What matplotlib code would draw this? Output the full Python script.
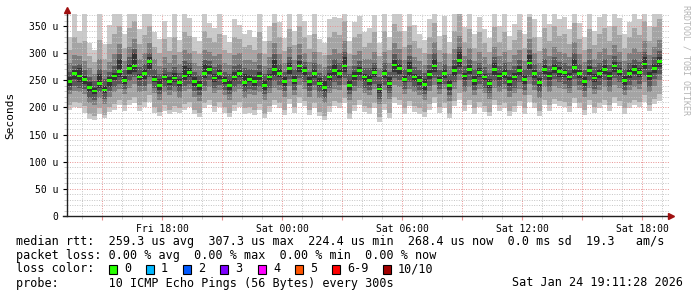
import matplotlib
matplotlib.use("Agg")
import matplotlib.pyplot as plt
from matplotlib.ticker import MultipleLocator, FuncFormatter
from matplotlib.patches import Rectangle
from matplotlib.lines import Line2D
import numpy as np

OUTPUT = "out.png"
MONO = "DejaVu Sans Mono"

# time of each 15 min column, hours since Fri 00:00
START = 13.25
STEP = 0.25

# median rtt (microseconds)
median = [248, 262, 258, 252, 236, 230, 244, 232, 250, 258, 266, 250,
          272, 276, 256, 262, 284, 252, 240, 256, 248, 254, 246, 258,
          264, 248, 240, 262, 270, 254, 262, 250, 240, 256, 262, 246,
          252, 248, 258, 240, 256, 270, 262, 248, 272, 250, 276, 268,
          248, 262, 244, 236, 256, 268, 262, 276, 240, 258, 268, 256,
          250, 264, 234, 262, 244, 278, 272, 252, 268, 256, 250, 242,
          260, 276, 250, 262, 240, 268, 286, 258, 270, 250, 264, 256,
          244, 270, 258, 262, 248, 256, 268, 252, 282, 262, 246, 270,
          258, 272, 266, 264, 256, 274, 262, 248, 268, 254, 262, 270,
          258, 276, 266, 250, 262, 270, 264, 280, 258, 272, 284]

# sorted pings p1 (min) .. p10 (max)
p1 = [196, 200, 198, 190, 178, 176, 188, 180, 192, 196, 204, 194,
      204, 208, 194, 200, 210, 190, 184, 194, 188, 192, 190, 196,
      200, 188, 182, 198, 204, 192, 200, 190, 182, 194, 200, 188,
      190, 186, 196, 180, 192, 204, 198, 186, 206, 190, 208, 202,
      186, 198, 184, 176, 192, 202, 198, 208, 178, 194, 204, 192,
      188, 198, 174, 196, 180, 208, 204, 188, 202, 192, 188, 182,
      196, 208, 190, 198, 180, 202, 214, 194, 204, 188, 200, 192,
      184, 204, 194, 198, 184, 192, 202, 188, 210, 198, 184, 204,
      194, 206, 202, 200, 192, 208, 198, 186, 204, 190, 198, 204,
      194, 208, 202, 188, 198, 204, 200, 210, 194, 206, 212]
p2 = [204, 210, 208, 202, 188, 184, 198, 186, 200, 206, 214, 204,
      214, 220, 204, 210, 222, 200, 192, 204, 196, 202, 198, 206,
      210, 196, 190, 208, 214, 202, 210, 200, 190, 204, 210, 198,
      200, 196, 206, 188, 202, 214, 208, 196, 216, 200, 220, 212,
      196, 208, 192, 184, 202, 212, 208, 218, 188, 204, 214, 202,
      198, 208, 182, 206, 190, 220, 214, 198, 212, 202, 198, 192,
      206, 220, 200, 208, 188, 212, 226, 204, 214, 198, 210, 202,
      192, 214, 204, 208, 194, 202, 212, 198, 222, 208, 194, 214,
      204, 216, 212, 210, 202, 218, 208, 196, 214, 200, 208, 214,
      204, 220, 212, 198, 208, 214, 210, 222, 204, 216, 224]
p3 = [224, 230, 228, 224, 208, 204, 218, 206, 220, 228, 234, 224,
      236, 244, 228, 230, 244, 226, 214, 228, 222, 228, 218, 230,
      234, 220, 212, 230, 238, 226, 232, 222, 214, 228, 234, 218,
      224, 222, 228, 214, 226, 236, 232, 220, 240, 222, 242, 234,
      220, 232, 218, 208, 226, 234, 232, 242, 214, 230, 236, 226,
      222, 234, 206, 232, 216, 242, 238, 224, 234, 228, 222, 214,
      230, 242, 224, 234, 212, 234, 250, 228, 238, 222, 234, 226,
      216, 236, 228, 234, 220, 226, 234, 222, 244, 232, 218, 238,
      228, 240, 236, 234, 226, 240, 232, 220, 236, 224, 232, 238,
      228, 242, 236, 222, 232, 238, 234, 246, 228, 240, 250]
p4 = [232, 240, 236, 234, 218, 214, 228, 216, 230, 238, 244, 234,
      248, 256, 240, 240, 256, 236, 224, 238, 232, 238, 228, 240,
      244, 230, 222, 240, 250, 236, 242, 232, 224, 238, 244, 228,
      234, 232, 238, 224, 236, 248, 242, 230, 252, 232, 254, 246,
      230, 242, 228, 218, 236, 246, 242, 254, 224, 240, 248, 236,
      232, 244, 216, 242, 226, 254, 250, 234, 246, 238, 232, 224,
      240, 254, 234, 244, 222, 246, 262, 238, 250, 232, 244, 236,
      226, 248, 238, 244, 230, 236, 246, 232, 256, 242, 228, 250,
      238, 252, 246, 244, 236, 252, 242, 230, 248, 234, 242, 250,
      238, 254, 246, 232, 242, 250, 244, 258, 238, 252, 262]
p5 = [240, 252, 246, 244, 228, 224, 236, 226, 238, 250, 256, 244,
      262, 266, 250, 252, 270, 246, 232, 248, 242, 246, 238, 250,
      256, 240, 232, 254, 262, 246, 252, 244, 232, 248, 256, 238,
      246, 240, 250, 232, 248, 258, 256, 240, 262, 244, 266, 258,
      240, 254, 238, 228, 248, 258, 254, 266, 232, 250, 260, 248,
      242, 256, 226, 254, 236, 266, 262, 246, 258, 248, 242, 232,
      252, 266, 244, 254, 232, 258, 274, 250, 262, 242, 256, 248,
      236, 260, 250, 254, 240, 248, 258, 244, 270, 254, 238, 262,
      250, 264, 256, 256, 248, 264, 254, 240, 260, 246, 254, 262,
      250, 266, 258, 242, 254, 262, 256, 270, 250, 264, 274]
p6 = [256, 268, 272, 258, 246, 236, 262, 240, 256, 264, 290, 258,
      280, 300, 262, 270, 292, 258, 252, 262, 256, 264, 252, 276,
      272, 256, 248, 280, 276, 262, 270, 256, 250, 266, 268, 262,
      260, 256, 266, 250, 262, 288, 270, 256, 282, 258, 286, 274,
      256, 270, 254, 248, 264, 280, 270, 292, 250, 266, 274, 262,
      260, 272, 244, 270, 256, 288, 280, 258, 284, 262, 258, 252,
      268, 290, 256, 270, 250, 276, 302, 264, 278, 258, 272, 262,
      252, 282, 264, 270, 256, 264, 276, 260, 296, 268, 254, 278,
      266, 280, 274, 270, 264, 290, 268, 256, 276, 262, 270, 278,
      266, 284, 272, 258, 270, 278, 272, 292, 266, 280, 292]
p7 = [266, 276, 280, 268, 256, 248, 270, 252, 266, 276, 298, 268,
      292, 308, 274, 280, 300, 270, 262, 272, 266, 274, 264, 286,
      282, 266, 260, 288, 286, 274, 280, 266, 262, 276, 280, 272,
      270, 268, 278, 262, 272, 298, 280, 266, 292, 270, 296, 284,
      266, 282, 264, 260, 276, 290, 282, 302, 262, 276, 286, 272,
      272, 282, 256, 282, 266, 298, 290, 270, 294, 274, 268, 264,
      278, 300, 268, 280, 262, 288, 312, 276, 290, 270, 282, 274,
      264, 292, 276, 282, 268, 276, 288, 270, 306, 280, 266, 290,
      276, 292, 284, 282, 276, 300, 280, 268, 288, 274, 282, 290,
      278, 294, 284, 270, 282, 290, 284, 302, 278, 292, 304]
p8 = [282, 296, 294, 286, 272, 262, 290, 268, 284, 298, 316, 286,
      312, 326, 290, 300, 318, 290, 276, 292, 282, 296, 280, 306,
      300, 282, 276, 306, 302, 294, 298, 282, 278, 296, 300, 288,
      288, 284, 300, 276, 292, 318, 298, 282, 312, 288, 316, 300,
      284, 302, 280, 274, 296, 308, 300, 322, 276, 296, 304, 290,
      290, 302, 272, 302, 282, 318, 308, 288, 314, 292, 286, 278,
      298, 320, 284, 300, 276, 308, 332, 294, 310, 286, 302, 292,
      280, 312, 294, 302, 284, 296, 306, 286, 326, 300, 282, 310,
      294, 312, 302, 300, 292, 320, 298, 284, 308, 290, 302, 310,
      296, 314, 302, 286, 300, 310, 302, 322, 296, 312, 324]
p9 = [306, 330, 318, 322, 294, 284, 324, 290, 316, 336, 350, 310,
      346, 360, 316, 334, 350, 312, 300, 326, 304, 330, 302, 338,
      332, 304, 298, 340, 328, 320, 336, 306, 300, 330, 326, 312,
      314, 306, 338, 298, 322, 356, 330, 304, 344, 314, 350, 330,
      308, 336, 302, 296, 330, 338, 334, 360, 298, 330, 336, 312,
      318, 338, 294, 340, 306, 354, 340, 312, 350, 322, 310, 300,
      330, 356, 306, 334, 298, 340, 372, 320, 344, 310, 338, 318,
      302, 348, 320, 338, 306, 324, 342, 310, 366, 330, 304, 346,
      322, 350, 332, 336, 316, 356, 326, 306, 344, 314, 336, 346,
      322, 350, 334, 310, 330, 346, 334, 360, 322, 348, 362]
p10 = [330, 372, 340, 372, 318, 306, 372, 316, 352, 372, 372, 336,
       372, 372, 344, 372, 372, 338, 326, 360, 330, 372, 324, 372,
       364, 330, 322, 372, 356, 346, 372, 334, 320, 362, 352, 336,
       342, 330, 372, 322, 350, 372, 358, 328, 372, 340, 372, 360,
       334, 372, 326, 318, 362, 366, 364, 372, 322, 358, 368, 338,
       346, 370, 318, 372, 330, 372, 372, 340, 372, 352, 336, 324,
       362, 372, 332, 368, 320, 372, 372, 348, 372, 336, 366, 344,
       328, 372, 350, 372, 332, 354, 372, 336, 372, 362, 330, 372,
       354, 372, 362, 366, 344, 372, 356, 330, 372, 340, 366, 372,
       350, 372, 364, 336, 358, 372, 362, 372, 350, 372, 372]

loss_labels = ["0", "1", "2", "3", "4", "5", "6-9", "10/10"]
loss_colors = ["#26ff00", "#00b8ff", "#0059ff", "#7e00ff",
               "#ff00ff", "#ff5500", "#ff0000", "#a10000"]
smoke_colors = ["#cacaca", "#a4a4a4", "#7e7e7e", "#585858", "#323232"]

W, H = 697, 297


def fx(px):
    return px / W


def fy(py):
    return 1 - py / H


def plot_smoke():
    fig = plt.figure(figsize=(W / 100, H / 100), dpi=100)
    fig.patch.set_facecolor("white")
    ax = fig.add_axes([fx(67), fy(216), (669 - 67) / W, (216 - 14) / H])

    t = START + STEP * np.arange(len(median))
    lows = [p1, p2, p3, p4, p5]
    highs = [p10, p9, p8, p7, p6]
    for lo, hi, c in zip(lows, highs, smoke_colors):
        lo = np.array(lo, float)
        hi = np.array(hi, float)
        ax.bar(t, hi - lo, bottom=lo, width=STEP, align="edge",
               color=c, linewidth=0, zorder=1)

    # median drawn as a thin band in loss colour
    med = np.array(median, float)
    ax.bar(t, 5, bottom=med - 2.5, width=STEP, align="edge",
           color=loss_colors[0], linewidth=0, zorder=4)

    ax.set_xlim(START, START + 602 / 20)
    ax.set_ylim(0, 372)

    ax.xaxis.set_major_locator(MultipleLocator(3))
    ax.xaxis.set_minor_locator(MultipleLocator(1))
    days = {0: "Fri", 1: "Sat", 2: "Sun"}

    def xfmt(v, pos):
        h = int(round(v))
        if h % 6:
            return ""
        return f"{days[h // 24]} {h % 24:02d}:00"

    ax.xaxis.set_major_formatter(FuncFormatter(xfmt))
    ax.yaxis.set_major_locator(MultipleLocator(50))
    ax.yaxis.set_minor_locator(MultipleLocator(10))
    ax.yaxis.set_major_formatter(FuncFormatter(
        lambda v, p: "0" if v == 0 else f"{v:.0f} u"))

    ax.grid(which="minor", color="#c4c4c4", linestyle=(0, (1, 1.5)),
            linewidth=0.7, zorder=2)
    ax.grid(which="major", color="#e89090", linestyle=(0, (1, 1.5)),
            linewidth=0.7, zorder=3)
    ax.set_axisbelow(False)

    for s in ax.spines.values():
        s.set_visible(False)
    ax.tick_params(axis="both", which="both", labelsize=7)
    ax.tick_params(axis="x", which="major", length=3, color="#e89090", pad=3)
    ax.tick_params(axis="x", which="minor", length=2, color="#c4c4c4")
    ax.tick_params(axis="y", which="major", length=3, color="#000000", pad=3)
    ax.tick_params(axis="y", which="minor", length=2, color="#c4c4c4")
    for lab in ax.get_xticklabels() + ax.get_yticklabels():
        lab.set_fontfamily(MONO)

    # axis lines with arrows
    fig.add_artist(Line2D([fx(67), fx(67)], [fy(216), fy(10)],
                          color="#202020", linewidth=1.0))
    fig.add_artist(Line2D([fx(63), fx(671)], [fy(216), fy(216)],
                          color="#202020", linewidth=1.0))
    fig.add_artist(Line2D([fx(67)], [fy(10)], marker="^", markersize=4,
                          color="#a01010", linestyle=""))
    fig.add_artist(Line2D([fx(671)], [fy(216)], marker=">", markersize=4,
                          color="#a01010", linestyle=""))

    fig.text(fx(10), fy(115), "Seconds", rotation=90, ha="center",
             va="center", fontsize=8, family=MONO)
    fig.text(fx(686), fy(5), "RRDTOOL / TOBI OETIKER", rotation=270,
             ha="center", va="top", fontsize=6, family=MONO,
             color="#b4b4b4")

    fs = 8.5
    fig.text(fx(16), fy(241),
             "median rtt:  259.3 us avg  307.3 us max  224.4 us min  "
             "268.4 us now  0.0 ms sd  19.3   am/s",
             va="center", fontsize=fs, family=MONO)
    fig.text(fx(16), fy(255),
             "packet loss: 0.00 % avg  0.00 % max  0.00 % min  0.00 % now",
             va="center", fontsize=fs, family=MONO)
    fig.text(fx(16), fy(269), "loss color:", va="center",
             fontsize=fs, family=MONO)
    sw_x = [109, 146, 183, 220, 258, 295, 332, 383]
    for sx, lab, c in zip(sw_x, loss_labels, loss_colors):
        fig.add_artist(Rectangle((fx(sx), fy(273.5)), 8 / W, 9 / H,
                                 facecolor=c, edgecolor="black",
                                 linewidth=0.8))
        fig.text(fx(sx + 15), fy(269), lab, va="center",
                 fontsize=fs, family=MONO)
    fig.text(fx(16), fy(283),
             "probe:       10 ICMP Echo Pings (56 Bytes) every 300s",
             va="center", fontsize=fs, family=MONO)
    fig.text(fx(683), fy(283), "Sat Jan 24 19:11:28 2026", ha="right",
             va="center", fontsize=fs, family=MONO)

    fig.savefig(OUTPUT, dpi=100)


if __name__ == "__main__":
    plot_smoke()
